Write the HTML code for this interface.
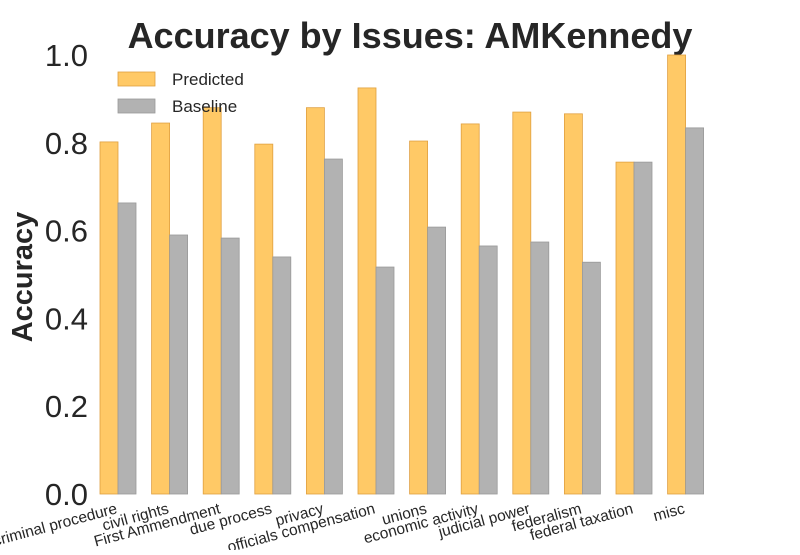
<!DOCTYPE html>
<html><head><meta charset="utf-8"><style>
body{margin:0;background:#fff}
svg text{font-family:"Liberation Sans",Arial,sans-serif}
</style></head><body>
<svg id="chart" width="800" height="550" xmlns="http://www.w3.org/2000/svg">
<text x="410" y="48" text-anchor="middle" font-size="36" font-weight="bold" fill="#262626">Accuracy by Issues: AMKennedy</text>
<text transform="translate(32,277) rotate(-90)" text-anchor="middle" font-size="29" font-weight="bold" fill="#262626">Accuracy</text>
<g id="yticks"></g><g id="bars"></g><g id="xlabels"></g>
<g>
<rect x="118" y="72" width="37" height="14" fill="#ffc966" stroke="#e0a040" stroke-width="0.8"/>
<text x="172" y="85" font-size="17" fill="#262626">Predicted</text>
<rect x="118" y="99" width="37" height="14" fill="#b2b2b2" stroke="#999" stroke-width="0.8"/>
<text x="172" y="112" font-size="17" fill="#262626">Baseline</text>
</g>
</svg>
<script>
const categories=["criminal procedure","civil rights","First Ammendment","due process","privacy","officials compensation","unions","economic activity","judicial power","federalism","federal taxation","misc"];
const predicted=[0.802,0.845,0.88,0.797,0.88,0.925,0.804,0.843,0.87,0.866,0.756,1.0];
const baseline=[0.663,0.59,0.583,0.54,0.763,0.517,0.608,0.565,0.574,0.528,0.756,0.834];
const yTicks=[0,0.2,0.4,0.6,0.8,1.0];
const NS="http://www.w3.org/2000/svg";
const y=v=>494-v*439;
const x0=i=>100+i*51.6;
const bw=18;
function mk(t,a,p){const e=document.createElementNS(NS,t);for(const k in a)e.setAttribute(k,a[k]);p.appendChild(e);return e;}
const yt=document.getElementById('yticks');
yTicks.forEach(v=>{const t=mk('text',{x:88,y:y(v)+11,'text-anchor':'end','font-size':'31',fill:'#262626'},yt);t.textContent=v.toFixed(1);

});
const bars=document.getElementById('bars'),xl=document.getElementById('xlabels');
categories.forEach((c,i)=>{
 const p=mk('rect',{x:x0(i),y:y(predicted[i]),width:bw,height:494-y(predicted[i]),fill:'#ffc966',stroke:'#e0a040','stroke-width':0.8},bars);
 
 
 const b=mk('rect',{x:x0(i)+bw,y:y(baseline[i]),width:bw,height:494-y(baseline[i]),fill:'#b2b2b2',stroke:'#999','stroke-width':0.8},bars);
 
 
 const tx=x0(i)+bw;
 const t=mk('text',{transform:`translate(${tx},513) rotate(-15)`,'text-anchor':'end','font-size':'15.5',fill:'#262626'},xl);
 t.textContent=c;
 
 
});
</script>
</body></html>
